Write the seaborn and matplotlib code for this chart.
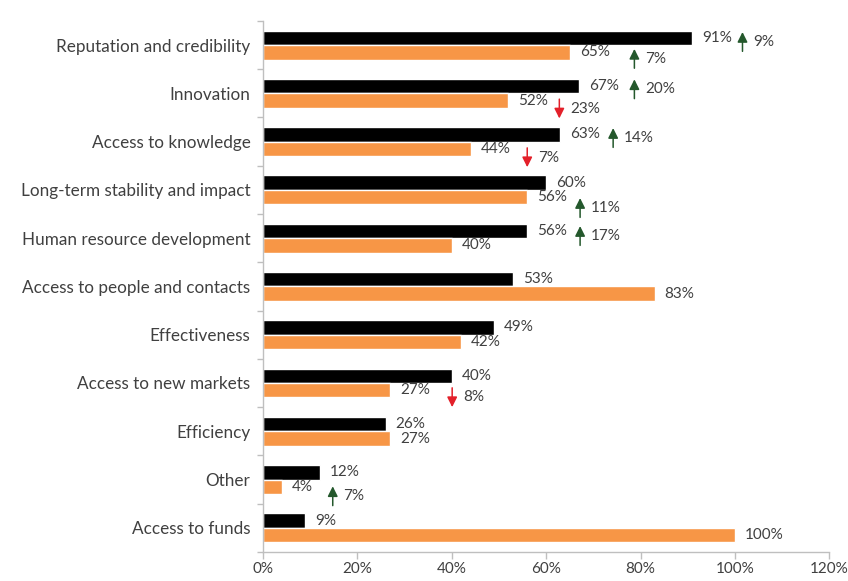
import numpy as np
import pandas as pd
import matplotlib
matplotlib.use("Agg")
import matplotlib.pyplot as plt
import seaborn as sns

categories = ["Reputation and credibility", "Innovation", "Access to knowledge",
              "Long-term stability and impact", "Human resource development",
              "Access to people and contacts", "Effectiveness", "Access to new markets",
              "Efficiency", "Other", "Access to funds"]
series_names = ["Series 1", "Series 2"]
values_black = [91, 67, 63, 60, 56, 53, 49, 40, 26, 12, 9]
values_orange = [65, 52, 44, 56, 40, 83, 42, 27, 27, 4, 100]
xticks = [0, 20, 40, 60, 80, 100, 120]

# change annotations (category, change in %)
change_cats = ["Reputation and credibility", "Reputation and credibility", "Innovation",
               "Innovation", "Access to knowledge", "Access to knowledge",
               "Long-term stability and impact", "Human resource development",
               "Access to new markets", "Other"]
change_vals = [9, 7, 20, -23, 14, -7, 11, 17, -8, 7]
# annotation placement (x in %, y offset in category units)
change_x = [101.6, 78.7, 78.7, 62.8, 74.2, 56.0, 67.2, 67.2, 40.1, 14.8]
change_dy = [-0.07, 0.28, -0.09, 0.32, -0.08, 0.33, 0.37, -0.05, 0.30, 0.34]

df = pd.DataFrame({
    "category": categories * 2,
    "series": [series_names[0]] * len(categories) + [series_names[1]] * len(categories),
    "value": values_black + values_orange,
})

sns.set_style("white")
plt.rcParams["font.family"] = ["Lato", "DejaVu Sans"]
text_color = "#404040"

fig = plt.figure(figsize=(8.48, 5.81), dpi=100)
ax = fig.add_axes([0.310, 0.050, 0.668, 0.914])

sns.barplot(data=df, y="category", x="value", hue="series", orient="h",
            palette=["#000000", "#F79646"], saturation=1, width=0.6,
            legend=False, ax=ax, order=categories, hue_order=series_names)

ax.set_xlim(0, 120)
ax.set_ylim(len(categories) - 0.5, -0.5)
ax.set_xticks(xticks)
ax.set_xticklabels([f"{t}%" for t in xticks])
ax.set_xlabel("")
ax.set_ylabel("")

for s in ["top", "right"]:
    ax.spines[s].set_visible(False)
for s in ["left", "bottom"]:
    ax.spines[s].set_color("#BFBFBF")
    ax.spines[s].set_linewidth(1.0)

ax.tick_params(axis="x", length=5, width=1, color="#BFBFBF", direction="out",
               pad=2.5, labelsize=11, labelcolor=text_color, bottom=True)
ax.tick_params(axis="y", which="major", length=0, pad=9, labelsize=12.3,
               labelcolor=text_color)
ax.set_yticks(np.arange(-0.5, len(categories), 1), minor=True)
ax.tick_params(axis="y", which="minor", length=4, width=1, color="#BFBFBF",
               direction="out", left=True)

off = 2.1
for i, (vb, vo) in enumerate(zip(values_black, values_orange)):
    ax.text(vb + off, i - 0.15, f"{vb}%", va="center", ha="left",
            fontsize=11, color=text_color)
    ax.text(vo + off, i + 0.15, f"{vo}%", va="center", ha="left",
            fontsize=11, color=text_color)

for cat, val, x, dy in zip(change_cats, change_vals, change_x, change_dy):
    i = categories.index(cat)
    y = i + dy
    if val >= 0:
        col = "#24582C"
        tail, head = y + 0.2, y - 0.2
    else:
        col = "#E3202A"
        tail, head = y - 0.2, y + 0.2
    ax.annotate("", xy=(x, head), xytext=(x, tail),
                arrowprops=dict(arrowstyle="-|>,head_width=0.3,head_length=0.6",
                                color=col, lw=1.1, shrinkA=0, shrinkB=0,
                                mutation_scale=10))
    ax.text(x + 2.3, y, f"{abs(val)}%", va="center", ha="left",
            fontsize=11, color=text_color)

fig.savefig("out.png", dpi=100, facecolor="white")
